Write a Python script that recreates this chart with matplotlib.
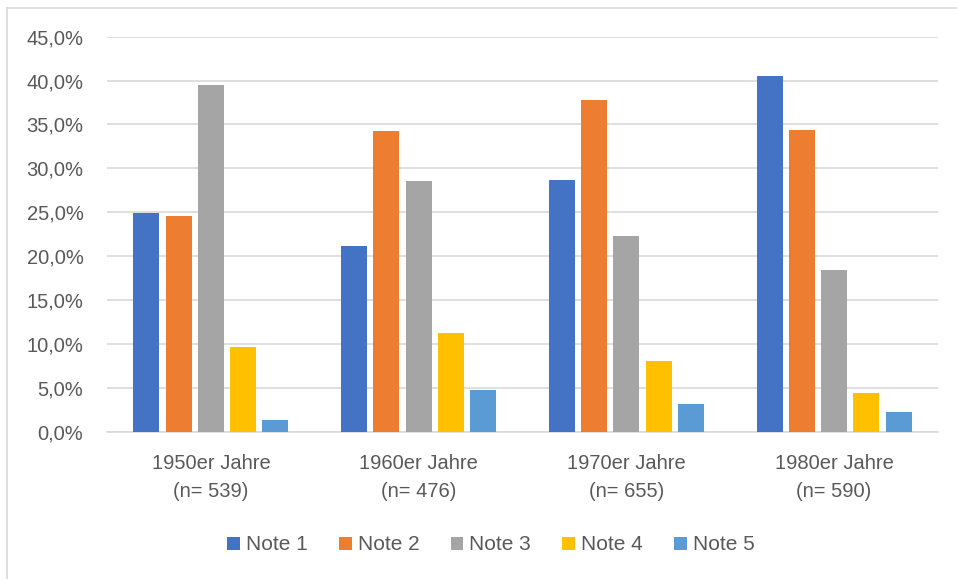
import numpy as np
import matplotlib.pyplot as plt
from matplotlib.lines import Line2D
from matplotlib.ticker import FuncFormatter

plt.rcParams['font.family'] = ['Liberation Sans', 'DejaVu Sans']

categories = ['1950er Jahre\n(n= 539)', '1960er Jahre\n(n= 476)',
              '1970er Jahre\n(n= 655)', '1980er Jahre\n(n= 590)']
series = ['Note 1', 'Note 2', 'Note 3', 'Note 4', 'Note 5']
note1 = [24.9, 21.2, 28.7, 40.5]
note2 = [24.6, 34.2, 37.8, 34.4]
note3 = [39.5, 28.6, 22.3, 18.4]
note4 = [9.6, 11.2, 8.0, 4.4]
note5 = [1.3, 4.8, 3.2, 2.2]
colors = ['#4472C4', '#ED7D31', '#A5A5A5', '#FFC000', '#5B9BD5']

values = [note1, note2, note3, note4, note5]
text_color = '#595959'
grid_color = '#D9D9D9'

fig = plt.figure(figsize=(9.57, 5.79), dpi=100)
ax = fig.add_axes([107 / 957, 1 - 431.7 / 579, 831 / 957, 395 / 579])

x = np.arange(len(categories))
step = 0.155
width = 0.125
for i, (name, vals, c) in enumerate(zip(series, values, colors)):
    ax.bar(x + (i - 2) * step, vals, width, color=c, label=name, zorder=3)

ax.set_xlim(-0.5, len(categories) - 0.5)
ax.set_ylim(0, 45)
ax.set_yticks(np.arange(0, 46, 5))
ax.yaxis.set_major_formatter(FuncFormatter(lambda v, p: f'{v:.1f}%'.replace('.', ',')))
ax.set_xticks(x)
ax.set_xticklabels(categories, linespacing=1.6)

ax.grid(axis='y', color=grid_color, linewidth=1.2, zorder=0)
for side in ['top', 'right', 'left']:
    ax.spines[side].set_visible(False)
ax.spines['bottom'].set_color(grid_color)
ax.spines['bottom'].set_linewidth(1.2)
ax.tick_params(axis='both', length=0, labelsize=14.5, colors=text_color)
ax.tick_params(axis='y', pad=17)
ax.tick_params(axis='x', pad=16)

fig.legend(loc='center', bbox_to_anchor=(491 / 957, 1 - 545 / 579), ncol=5,
           frameon=False, fontsize=15, labelcolor=text_color,
           handlelength=0.6, handleheight=0.6, handletextpad=0.3,
           columnspacing=1.5)

# chart area border (cropped at right and bottom)
fig.add_artist(Line2D([7 / 957, 7 / 957], [0, 1 - 8 / 579],
                      color=grid_color, linewidth=1.2, transform=fig.transFigure))
fig.add_artist(Line2D([7 / 957, 1], [1 - 8 / 579, 1 - 8 / 579],
                      color=grid_color, linewidth=1.2, transform=fig.transFigure))

plt.savefig('out.png', dpi=100)
